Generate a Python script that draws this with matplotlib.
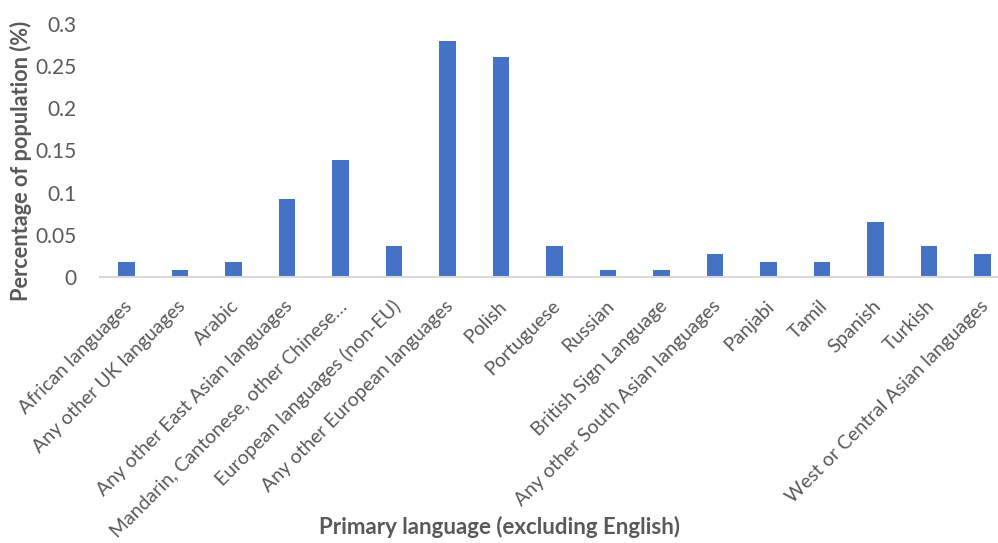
import matplotlib
matplotlib.use("Agg")
import matplotlib.pyplot as plt
from matplotlib.transforms import ScaledTranslation

categories = [
    "African languages",
    "Any other UK languages",
    "Arabic",
    "Any other East Asian languages",
    "Mandarin, Cantonese, other Chinese\u2026",
    "European languages (non-EU)",
    "Any other European languages",
    "Polish",
    "Portuguese",
    "Russian",
    "British Sign Language",
    "Any other South Asian languages",
    "Panjabi",
    "Tamil",
    "Spanish",
    "Turkish",
    "West or Central Asian languages",
]
values = [0.018, 0.009, 0.018, 0.093, 0.139, 0.037, 0.279, 0.260,
          0.037, 0.009, 0.009, 0.028, 0.018, 0.018, 0.065, 0.037, 0.028]
yticks = [0, 0.05, 0.1, 0.15, 0.2, 0.25, 0.3]
ytick_labels = ["0", "0.05", "0.1", "0.15", "0.2", "0.25", "0.3"]

plt.rcParams["font.family"] = ["Lato", "DejaVu Sans"]
TXT = "#595959"
BAR = "#4472C4"

W, H = 998, 543
fig = plt.figure(figsize=(W / 100, H / 100), dpi=100)
left = 99.75 / W
bottom = (H - 277.3) / H
top = (H - 23.5) / H
ax = fig.add_axes([left, bottom, 1.0 - left, top - bottom])

x = list(range(len(categories)))
ax.bar(x, values, width=0.315, color=BAR, zorder=3)

ax.set_xlim(-0.5, 16.29)
ax.set_ylim(0, 0.3)
ax.set_yticks(yticks)
ax.set_yticklabels(ytick_labels, fontsize=15, color=TXT)
ax.tick_params(axis="y", length=0, pad=17)
ax.tick_params(axis="x", length=0, pad=0)

ax.set_xticks(x)
labels = ax.set_xticklabels(categories, rotation=45, ha="right", va="top",
                            rotation_mode="anchor", fontsize=14, color=TXT)
offset = ScaledTranslation(-3 / 100, -20 / 100, fig.dpi_scale_trans)
for lab in labels:
    lab.set_transform(lab.get_transform() + offset)

for s in ["top", "right", "left"]:
    ax.spines[s].set_visible(False)
ax.spines["bottom"].set_color("#D9D9D9")
ax.spines["bottom"].set_linewidth(1.5)
ax.spines["bottom"].set_zorder(4)

fig.text(21 / W, 1 - 161 / H, "Percentage of population (%)", rotation=90,
         ha="center", va="center", fontsize=15.7, fontweight="bold", color=TXT)
fig.text(500 / W, 1 - 527 / H, "Primary language (excluding English)",
         ha="center", va="center", fontsize=16, fontweight="bold", color=TXT)

fig.savefig("out.png", dpi=100)
